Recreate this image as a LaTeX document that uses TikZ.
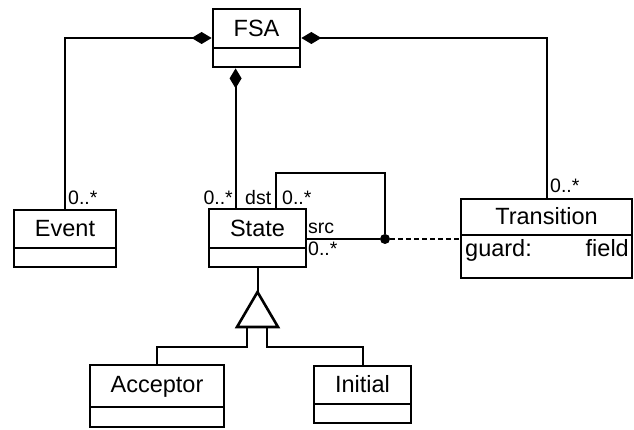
\documentclass[tikz,border=0pt]{standalone}
\usepackage{fontspec}
\setmainfont{Liberation Sans}
\usetikzlibrary{arrows.meta}
\newcommand\umlcls[7]{%
  \node[clsbox, minimum width={#4-#2}, minimum height={#6-#3}] (#1) at ({(#2+#4)/2},{(#3+#6)/2}) {};
  \draw[clsline] (#2,#5) -- (#4,#5);
}
\begin{document}
\begin{tikzpicture}[x=1pt,y=-1pt,
  clsbox/.style={draw, line width=2.8pt, inner sep=0pt, line join=miter},
  clsline/.style={line width=2.8pt},
  clsname/.style={anchor=base, inner sep=0pt, font=\fontsize{23.5}{28}\selectfont},
  attrtext/.style={inner sep=0pt, font=\fontsize{23.5}{28}\selectfont},
  mult/.style={inner sep=0pt, font=\fontsize{19.5}{23}\selectfont},
  conn/.style={line width=2pt},
  compo/.style={conn, {Diamond[length=20pt,width=12pt]}-},
  dashconn/.style={conn, dash pattern=on 5pt off 3pt},
  gentri/.style={line width=2.6pt, line join=miter}]
\useasboundingbox (0,0) rectangle (634,430);

\umlcls{fsa}{213}{9}{300}{48}{67}{FSA}
\node[clsname] (fsa-name) at (256.5,37) {FSA};
\umlcls{event}{14}{210}{116}{248}{267}{Event}
\node[clsname] (event-name) at (65,237) {Event};
\umlcls{state}{209}{209}{306}{248}{267}{State}
\node[clsname] (state-name) at (257.5,237) {State};
\umlcls{trans}{461}{199}{632}{235}{278}{Transition}
\node[clsname] (trans-name) at (546.5,225) {Transition};
\node[attrtext, anchor=base west] (trans-guard) at (465,257) {guard:};
\node[attrtext, anchor=base east] (trans-field) at (629,257) {field};
\umlcls{acc}{90}{365}{224}{407}{427}{Acceptor}
\node[clsname] (acc-name) at (157,392) {Acceptor};
\umlcls{ini}{314}{366}{411}{404}{423}{Initial}
\node[clsname] (ini-name) at (362.5,392) {Initial};

% compositions
\draw[compo] (fsa.west) -| (event.north);
\draw[compo] (fsa.east) -| (trans.north);
\draw[compo] ([xshift=24pt]fsa.south west) -- ([xshift=28pt]state.north west);

% self association with association class
\node[circle, fill, inner sep=0pt, minimum size=10pt] (jn) at (385,239) {};
\coordinate (loopc) at (385,173);
\draw[conn] ([xshift=68pt]state.north west) |- (loopc) -- (jn);
\draw[conn] (jn) -- (state.east |- jn);
\draw[dashconn] (jn) -- (trans.west |- jn);

% multiplicities and roles
\node[mult, anchor=base west] (m-event) at (68,205) {0..*};
\node[mult, anchor=base east] (m-state) at (233,205) {0..*};
\node[mult, anchor=base west] (r-dst) at (245,205) {dst};
\node[mult, anchor=base west] (m-dst) at (282,205) {0..*};
\node[mult, anchor=base west] (r-src) at (308,234) {src};
\node[mult, anchor=base west] (m-src) at (308,256) {0..*};
\node[mult, anchor=base west] (m-trans) at (550,193) {0..*};

% generalization
\coordinate (gapex) at (257.5,292);
\coordinate (gbl) at (237,327);
\coordinate (gbr) at (278,327);
\draw[conn] (state.south) -- (gapex);
\draw[gentri] (gapex) -- (gbl) -- (gbr) -- cycle;
\coordinate (ga) at (247,327);
\coordinate (gb) at (267,327);
\coordinate (ga1) at (247,347);
\coordinate (gb1) at (267,347);
\draw[conn] (ga) -- (ga1) -| (acc.north);
\draw[conn] (gb) -- (gb1) -| (ini.north);
\end{tikzpicture}
\end{document}
